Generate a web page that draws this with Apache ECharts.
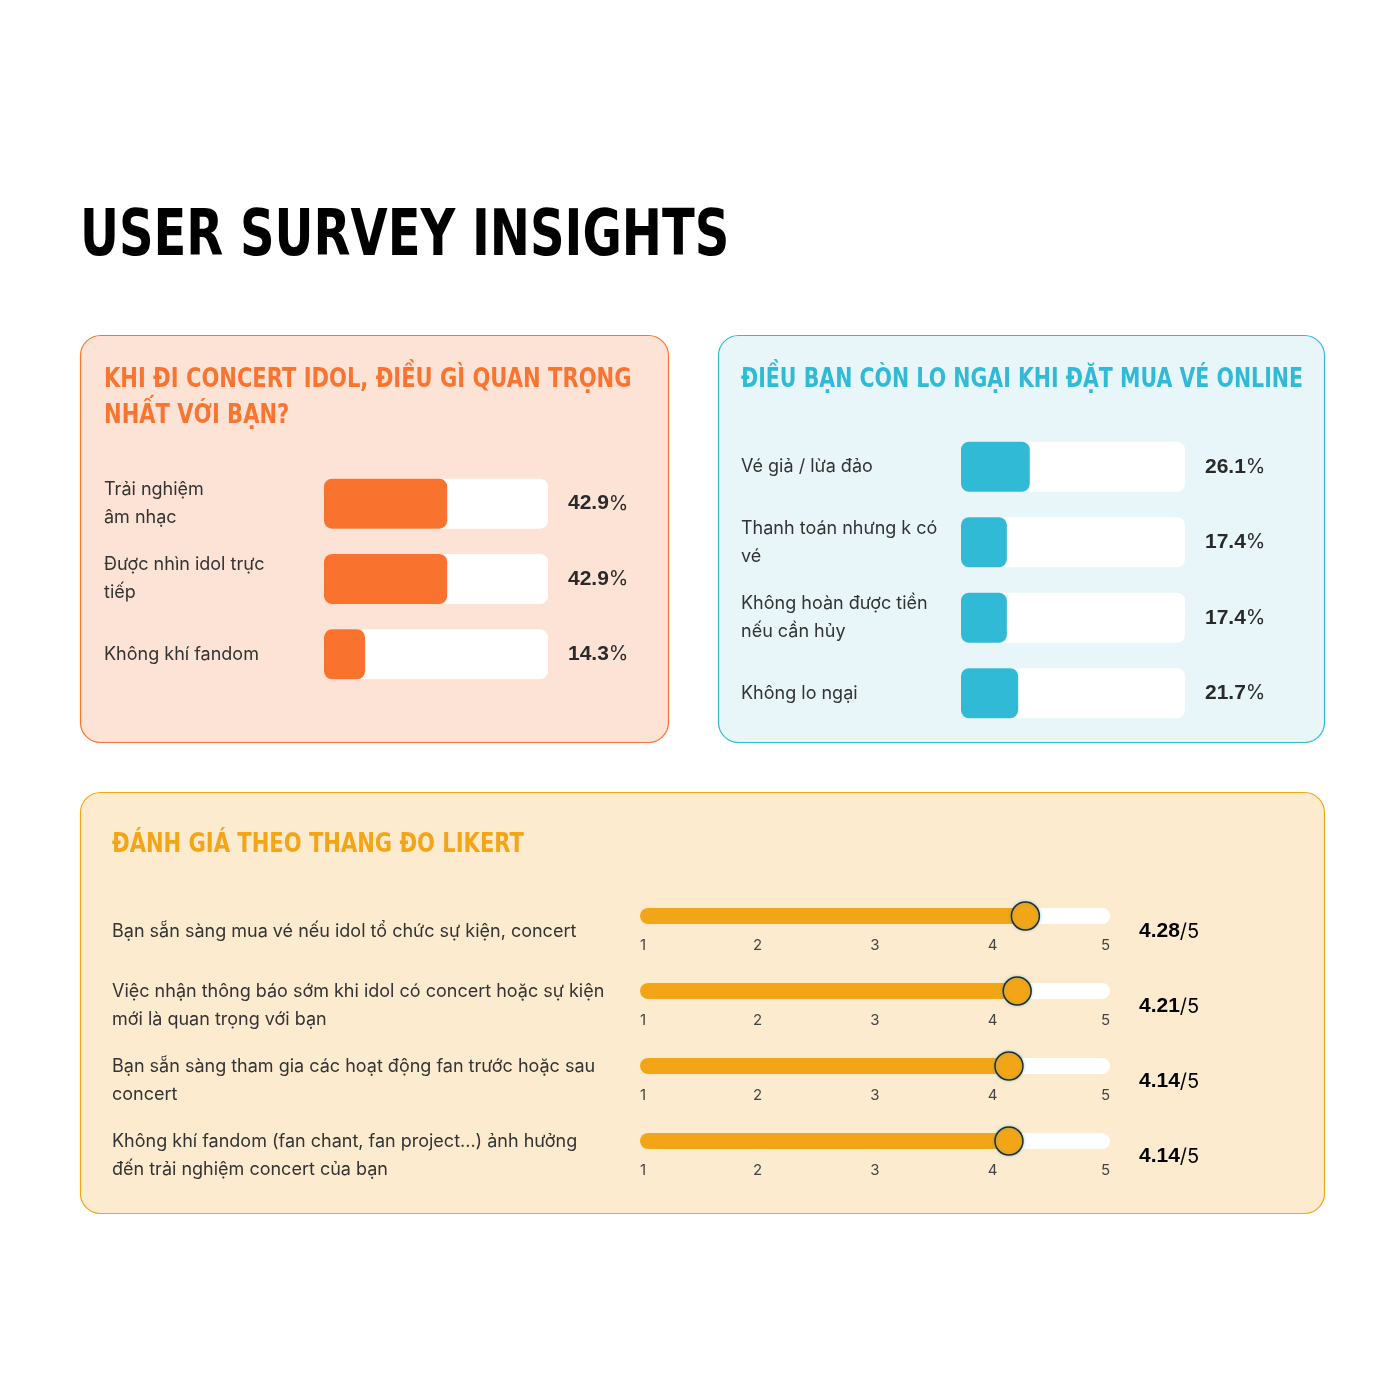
<!DOCTYPE html>
<html lang="vi">
<head>
  <meta charset="UTF-8">
  <title>user survey insights</title>
  <script src="https://cdn.jsdelivr.net/npm/echarts@6/dist/echarts.min.js"></script>
  <style>
    html, body { margin: 0; background: #fff; }
    #chart { width: 1400px; height: 1400px; }
  </style>
</head>
<body>
  <div id="chart"></div>
  <script>
    let importantCats = ['Trải nghiệm\nâm nhạc', 'Được nhìn idol trực\ntiếp', 'Không khí fandom'];
    let importantVals = [42.9, 42.9, 14.3];

    let worryCats = ['Vé giả / lừa đảo', 'Thanh toán nhưng k có\nvé', 'Không hoàn được tiền\nnếu cần hủy', 'Không lo ngại'];
    let worryVals = [26.1, 17.4, 17.4, 21.7];

    let likertCats = [
      'Bạn sẵn sàng mua vé nếu idol tổ chức sự kiện, concert',
      'Việc nhận thông báo sớm khi idol có concert hoặc sự kiện\nmới là quan trọng với bạn',
      'Bạn sẵn sàng tham gia các hoạt động fan trước hoặc sau\nconcert',
      'Không khí fandom (fan chant, fan project...) ảnh hưởng\nđến trải nghiệm concert của bạn'
    ];
    let likertVals = [4.28, 4.21, 4.14, 4.14];
    let likertTicks = [1, 2, 3, 4, 5];
  </script>
  <script>
    let chart = echarts.init(document.getElementById('chart'));
    let headFont = "'DejaVu Sans', sans-serif";
    let bodyFont = "Inter, 'Noto Sans', sans-serif";

    let valueRich = {
      n: { fontFamily: "'Liberation Sans', sans-serif", fontWeight: 'bold', fontSize: 21, color: '#2a2a2a' },
      p: { fontFamily: bodyFont, fontWeight: 'normal', fontSize: 20, color: '#2a2a2a' }
    };

    function catAxis(idx, cats, margin) {
      return {
        type: 'category', gridIndex: idx, inverse: true, data: cats,
        axisLine: { show: false }, axisTick: { show: false },
        axisLabel: { margin: margin, align: 'left', fontFamily: bodyFont, fontSize: 18, lineHeight: 28, color: '#333' }
      };
    }
    function pctAxis(idx, vals) {
      return {
        type: 'category', gridIndex: idx, inverse: true, position: 'right',
        data: vals.map(v => v.toFixed(1)),
        axisLine: { show: false }, axisTick: { show: false },
        axisLabel: { margin: 20, formatter: v => '{n|' + v + '}{p|%}', rich: valueRich }
      };
    }
    function hiddenValueAxis(idx, max) {
      return { type: 'value', gridIndex: idx, min: 0, max: max, show: false };
    }

    let grid = [
      { left: 324, width: 224, top: 466, height: 226 },
      { left: 961, width: 224, top: 429, height: 302 }
    ];
    let xAxis = [hiddenValueAxis(0, 78), hiddenValueAxis(1, 85)];
    let yAxis = [
      catAxis(0, importantCats, 220), pctAxis(0, importantVals),
      catAxis(1, worryCats, 220), pctAxis(1, worryVals)
    ];
    let series = [
      {
        type: 'bar', xAxisIndex: 0, yAxisIndex: 0, data: importantVals, barWidth: 50,
        itemStyle: { color: '#F9732E', borderRadius: 8 },
        showBackground: true, backgroundStyle: { color: '#ffffff', borderRadius: 8 }
      },
      {
        type: 'bar', xAxisIndex: 1, yAxisIndex: 2, data: worryVals, barWidth: 50,
        itemStyle: { color: '#31BAD6', borderRadius: 8 },
        showBackground: true, backgroundStyle: { color: '#ffffff', borderRadius: 8 }
      }
    ];

    function headText(x, y, text, size, color, sx) {
      return { type: 'text', x: x, y: y, scaleX: sx, originX: 0,
        style: { text: text, font: 'bold ' + size + 'px ' + headFont, lineHeight: size * 1.33, fill: color } };
    }

    let graphic = [
      { type: 'rect', z: -10, shape: { x: 80.5, y: 335.5, width: 588, height: 407, r: 20 }, style: { fill: '#FDE3D6', stroke: '#F97430', lineWidth: 1.2 } },
      { type: 'rect', z: -10, shape: { x: 718.5, y: 335.5, width: 606, height: 407, r: 20 }, style: { fill: '#E8F6FA', stroke: '#31BAD6', lineWidth: 1.2 } },
      { type: 'rect', z: -10, shape: { x: 80.5, y: 792.5, width: 1244, height: 421, r: 20 }, style: { fill: '#FDEBD0', stroke: '#F2A516', lineWidth: 1.2 } },
      headText(80, 196, 'USER SURVEY INSIGHTS', 64, '#000', 0.75),
      headText(104, 362, 'KHI ĐI CONCERT IDOL, ĐIỀU GÌ QUAN TRỌNG\nNHẤT VỚI BẠN?', 27, '#F97430', 0.78),
      headText(741, 362, 'ĐIỀU BẠN CÒN LO NGẠI KHI ĐẶT MUA VÉ ONLINE', 27, '#31BAD6', 0.76),
      headText(112, 827, 'ĐÁNH GIÁ THEO THANG ĐO LIKERT', 27, '#F2A516', 0.78)
    ];

    // likert rows: one small grid per statement
    likertVals.forEach((v, i) => {
      let g = grid.length;
      let top = 908 + 75 * i;
      grid.push({ left: 640, width: 470, top: top, height: 16 });
      xAxis.push({
        type: 'value', gridIndex: g, min: 1, max: 5, interval: 1,
        splitLine: { show: false }, axisLine: { show: false }, axisTick: { show: false },
        axisLabel: { margin: 14, fontFamily: bodyFont, fontSize: 15, color: '#444', alignMinLabel: 'left', alignMaxLabel: 'right',
          formatter: t => likertTicks.indexOf(t) >= 0 ? String(t) : '' }
      });
      let y = yAxis.length;
      yAxis.push({ type: 'category', gridIndex: g, data: [likertCats[i]], show: false });
      series.push({
        type: 'bar', xAxisIndex: g, yAxisIndex: y, stack: 'l' + i, data: [1], barWidth: 16,
        itemStyle: { color: 'transparent' }, silent: true,
        showBackground: true, backgroundStyle: { color: '#ffffff', borderRadius: 8 }
      });
      series.push({
        type: 'bar', xAxisIndex: g, yAxisIndex: y, stack: 'l' + i, data: [v - 1], barWidth: 16,
        itemStyle: { color: '#F2A516', borderRadius: 8 }
      });
      series.push({
        type: 'scatter', xAxisIndex: g, yAxisIndex: y, data: [v], symbolSize: 28, z: 5,
        itemStyle: { color: '#F2A516', opacity: 1, borderColor: '#2a2a2a', borderWidth: 1.5, shadowColor: 'rgba(49,186,214,0.5)', shadowBlur: 3 }
      });
      let lines = likertCats[i].split('\n').length;
      graphic.push({ type: 'text', left: 112, top: (lines === 1 ? 918 : 978) + 75 * i - (lines === 1 ? 0 : 75),
        style: { text: likertCats[i], font: '18px ' + bodyFont, lineHeight: 28, fill: '#333' } });
      graphic.push({ type: 'text', left: 1139, top: top + 13,
        style: { text: '{n|' + v.toFixed(2) + '}{p|/5}', rich: valueRich } });
    });

    chart.setOption({ animation: false, grid: grid, xAxis: xAxis, yAxis: yAxis, series: series, graphic: graphic });
  </script>
</body>
</html>
